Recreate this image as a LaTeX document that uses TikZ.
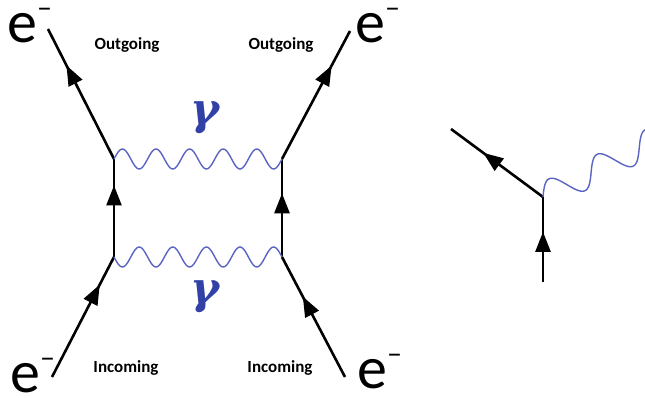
\documentclass[tikz,border=0pt]{standalone}
\usepackage{fontspec}
\setmainfont{Carlito}
\newfontfamily\gfont{DejaVu Serif}
\usepackage{tikz}
\usetikzlibrary{arrows.meta}
\usetikzlibrary{decorations.markings}

\definecolor{gammablue}{RGB}{50,65,165}
\definecolor{wavyblue}{RGB}{90,100,195}
\newcommand{\elec}{{\fontsize{60}{60}\selectfont e\raisebox{25pt}[0pt][0pt]{\fontsize{30}{30}\selectfont\textendash}}}

\begin{document}
\begin{tikzpicture}[x=1pt, y=1pt,
  fermion/.style={line width=2.6pt, postaction={decorate}, decoration={markings, mark=at position #1 with {\arrow{Triangle[length=20pt,width=15pt]}}}},
  photon/.style={wavyblue, line width=1.4pt, smooth},
  elabel/.style={anchor=base west, inner sep=0pt},
  tlabel/.style={font=\fontsize{17}{17}\selectfont\bfseries},
  glabel/.style={gammablue, inner sep=0pt, font=\fontsize{44}{44}\selectfont\gfont\bfseries\itshape},]
\useasboundingbox (0,0) rectangle (645,397);
% vertices
\coordinate (1) at (114,140);
\coordinate (2) at (114,238);
\coordinate (3) at (282,238);
\coordinate (4) at (282,140);
% free ends
\coordinate (5) at (52,20);
\coordinate (6) at (48,368);
\coordinate (7) at (350,366);
\coordinate (8) at (345,20);
\node[elabel] (9) at (7,354) {\elec};
\node[elabel] (10) at (355,354) {\elec};
\node[elabel] (11) at (10,5) {\elec};
\node[elabel] (12) at (357,9) {\elec};
\node[tlabel] (13) at (127,352) {Outgoing};
\node[tlabel] (14) at (281,352) {Outgoing};
\node[tlabel] (15) at (126,29) {Incoming};
\node[tlabel] (16) at (280,29) {Incoming};
\node[glabel] (17) at (205,279) {γ};
\node[glabel] (18) at (205,100) {γ};
  \draw[fermion=0.77] (5)--(1);
  \draw[fermion=0.73] (1)--(2);
  \draw[fermion=0.72] (2)--(6);
  \draw[fermion=0.65] (4)--(3);
  \draw[fermion=0.73] (3)--(7);
  \draw[fermion=0.67] (8)--(4);
% photons, (2) to (3) and (1) to (4)
\begin{scope}[shift={(2)}]
  \draw[photon] plot[variable=\t, domain=0:168, samples=121] (\t, {10*sin(\t/33.6*360)});
\end{scope}
\begin{scope}[shift={(1)}]
  \draw[photon] plot[variable=\t, domain=0:168, samples=121] (\t, {-10*sin(\t/33.6*360)});
\end{scope}
% single vertex
\coordinate (20) at (543,200);
\coordinate (21) at (451,268);
\coordinate (22) at (543,115);
  \draw[fermion=0.59] (22)--(20);
  \draw[fermion=0.65] (20)--(21);
\begin{scope}[shift={(20)}, rotate=27]
  \draw[photon] plot[variable=\t, domain=0:126, samples=71] (\t, {13.5*sin(\t/54*360)});
\end{scope}
\end{tikzpicture}
\end{document}
